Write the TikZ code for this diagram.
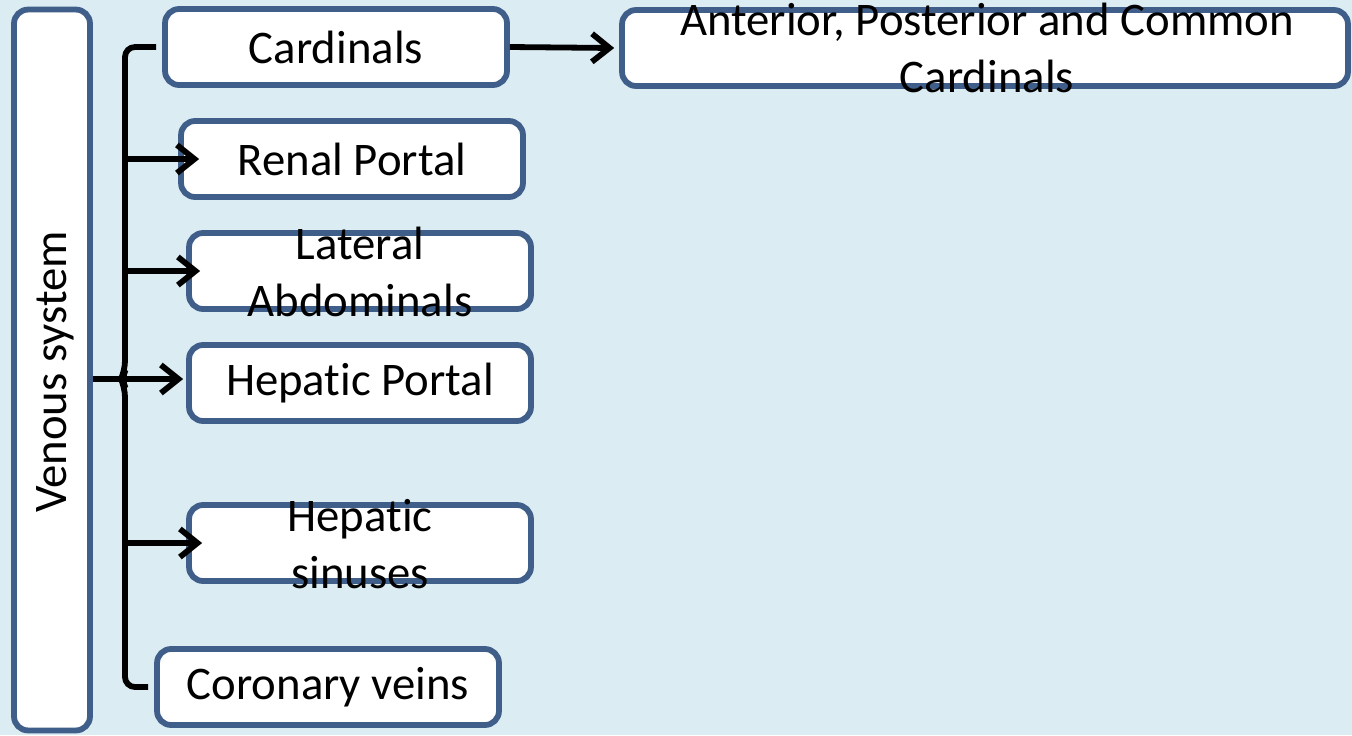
\documentclass[tikz,border=0pt]{standalone}
\usepackage{fontspec}
\setmainfont{Carlito}[Ligatures={NoCommon,NoContextual}]
\usetikzlibrary{arrows.meta}
\definecolor{bgblue}{HTML}{DBECF2}
\definecolor{edgeblue}{HTML}{3F5F8A}
\tikzset{
  box/.style={draw=edgeblue, fill=white, line width=3.3pt, rounded corners=8pt,
    minimum width=6.84cm, minimum height=1.52cm, inner sep=0pt},
  txt/.style={align=center, font=\fontsize{26.6}{32.3}\selectfont},
  link/.style={line width=3.3pt, rounded corners=0.2cm},
  arr/.style={line width=3.3pt, -{Straight Barb[length=10pt,width=16pt]}}
}
\begin{document}
\begin{tikzpicture}[x=0.02cm, y=-0.02cm]
  \fill[bgblue] (0,0) rectangle (1352,735);
  \useasboundingbox (0,0) rectangle (1352,735);

  \node[box, minimum width=1.52cm, minimum height=14.42cm] (vs) at (52,370) {};
  \node[txt, rotate=90] (vstext) at (55,372) {Venous system};

  \node[box, txt] (card) at (336,47) {Cardinals};
  \node[box, minimum width=14.52cm] (ant) at (985,48) {};
  \node[txt] (anttext) at (987,48) {Anterior, Posterior and Common\\Cardinals};

  \node[box, txt] (rp) at (352,159) {Renal Portal};
  \node[box] (la) at (360,271) {};
  \node[txt] (latext) at (360,272) {Lateral\\Abdominals};
  \node[box, txt] (hp) at (360,383) {Hepatic Portal};
  \node[box] (hs) at (360,543) {};
  \node[txt] (hstext) at (360,544) {Hepatic\\sinuses};
  \node[box, txt] (cv) at (328,687) {Coronary veins};

  \coordinate (sp) at (125,379);
  \draw[link] ([xshift=-0.12cm]card.west) -- (sp |- card.west)
    -- ([yshift=0.16cm]sp) -- ([xshift=-0.08cm]sp) -- ([yshift=-0.16cm]sp)
    -- (sp |- cv.west) -- ([xshift=-0.12cm]cv.west);
  \draw[arr] (vs.east |- sp) -- ([xshift=-0.06cm]hp.west |- sp);
  \draw[arr] (sp |- rp.west) -- ([xshift=0.42cm]rp.west);
  \draw[arr] (sp |- la.west) -- ([xshift=0.28cm]la.west);
  \draw[arr] (sp |- hs.west) -- ([xshift=0.32cm]hs.west);
  \draw[arr] (card.east) -- ([xshift=-0.1cm]ant.west);
\end{tikzpicture}
\end{document}
